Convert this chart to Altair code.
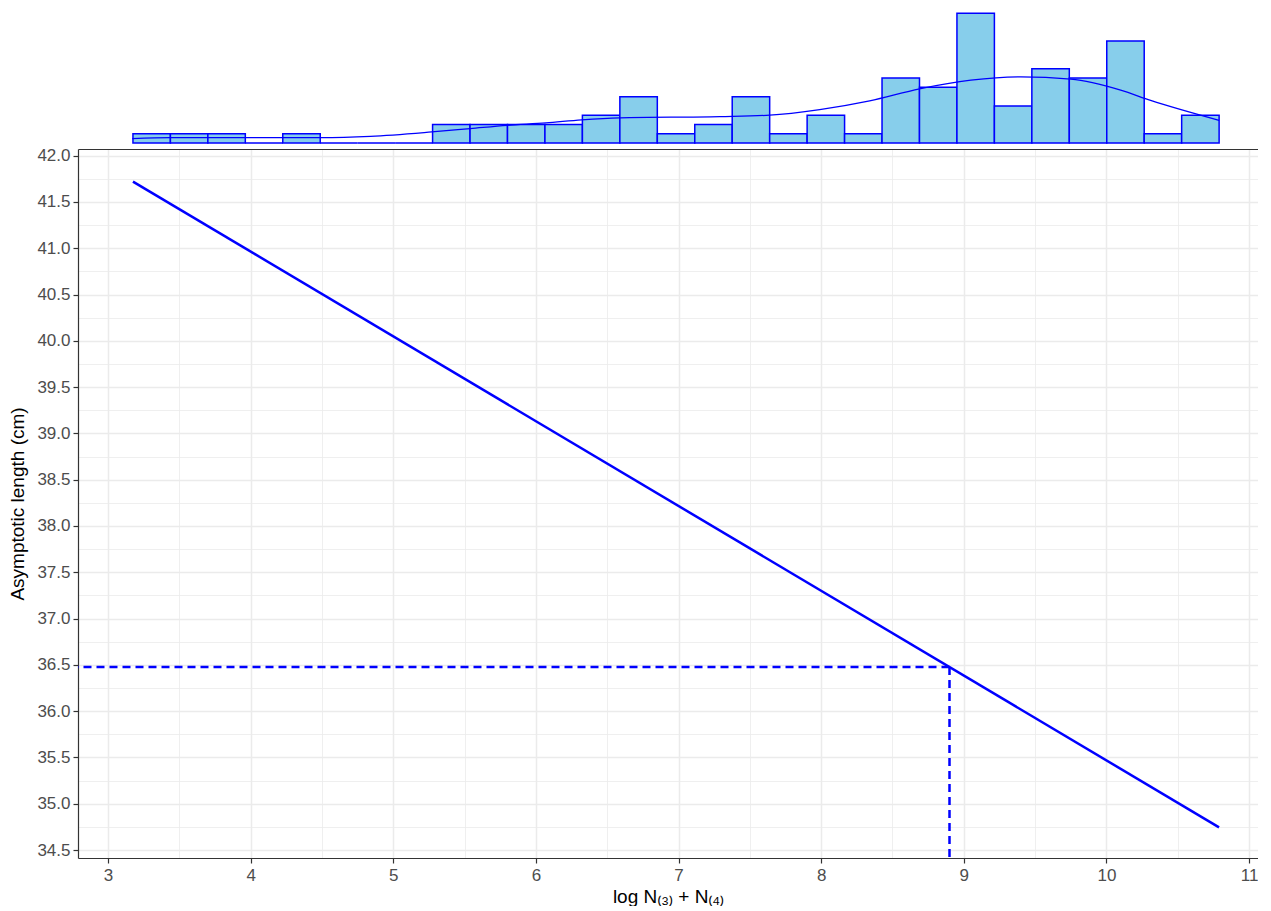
import altair as alt
import pandas as pd

# ---- data ----
line_x = [3.175, 10.79]
line_y = [41.72, 34.745]

ref_x = [8.9]
ref_y = [36.476]

hist_start = 3.175
hist_width = 0.2626
hist_counts = [1, 1, 1, 0, 1, 0, 0, 0, 2, 2, 2, 2, 3, 5, 1,
               2, 5, 1, 3, 1, 7, 6, 14, 4, 8, 7, 11, 1, 3]

dens_x = [3.17, 3.435, 3.96, 4.49, 4.84, 5.27, 5.54, 5.80, 6.07, 6.32, 6.59,
          7.29, 7.64, 7.99, 8.34, 8.69, 9.05, 9.40, 9.75, 10.10, 10.31, 10.79]
dens_y = [0.47, 0.58, 0.58, 0.58, 0.72, 1.19, 1.55, 1.90, 2.16, 2.50, 2.72,
          2.85, 3.00, 3.60, 4.54, 5.84, 6.78, 7.14, 6.89, 5.70, 4.60, 2.45]

x_major = [3, 4, 5, 6, 7, 8, 9, 10, 11]
x_minor = [3.5, 4.5, 5.5, 6.5, 7.5, 8.5, 9.5, 10.5]
y_major = [34.5, 35.0, 35.5, 36.0, 36.5, 37.0, 37.5, 38.0, 38.5, 39.0,
           39.5, 40.0, 40.5, 41.0, 41.5, 42.0]
y_minor = [34.75, 35.25, 35.75, 36.25, 36.75, 37.25, 37.75, 38.25, 38.75,
           39.25, 39.75, 40.25, 40.75, 41.25, 41.75]

X_TITLE = "log N\u208d\u2083\u208e + N\u208d\u2084\u208e"
Y_TITLE = "Asymptotic length (cm)"

X_DOMAIN = [2.7897, 11.063]
Y_DOMAIN = [34.414, 42.072]
HIST_Y_DOMAIN = [0, 14.56]
W = 1180
H_MAIN = 709
H_HIST = 135

BLUE = "#0000FF"
FONT = "Liberation Sans"

line_df = pd.DataFrame({"x": line_x, "y": line_y})
ref_df = pd.DataFrame({"x": ref_x, "y": ref_y})
hist_df = pd.DataFrame({
    "lo": [hist_start + i * hist_width for i in range(len(hist_counts))],
    "hi": [hist_start + (i + 1) * hist_width for i in range(len(hist_counts))],
    "count": hist_counts,
    "zero": [0] * len(hist_counts),
})
dens_df = pd.DataFrame({"x": dens_x, "y": dens_y})

# ---- main panel ----
xs = alt.Scale(domain=X_DOMAIN, nice=False, zero=False)
ys = alt.Scale(domain=Y_DOMAIN, nice=False, zero=False)

frame = alt.Chart(line_df).mark_point(opacity=0).encode(
    x=alt.X("x:Q", scale=xs, axis=alt.Axis(
        orient="top", values=x_minor, labels=False, ticks=False,
        domain=True, domainColor="#333333", domainWidth=1.2,
        grid=True, gridColor="#EBEBEB", gridWidth=0.8,
        title=None, minExtent=0, maxExtent=0)),
    y=alt.Y("y:Q", scale=ys, axis=alt.Axis(
        orient="right", values=y_minor, labels=False, ticks=False,
        domain=False, grid=True, gridColor="#EBEBEB", gridWidth=0.8,
        title=None, minExtent=0, maxExtent=0)),
)

hdash = alt.Chart(ref_df).mark_rule(color=BLUE, strokeWidth=2.5, strokeDash=[8, 5]).encode(
    x=alt.X("x:Q", scale=xs, axis=None),
    x2=alt.value(0),
    y=alt.Y("y:Q", scale=ys, axis=None),
)

vdash = alt.Chart(ref_df).mark_rule(color=BLUE, strokeWidth=2.5, strokeDash=[8, 5]).encode(
    x=alt.X("x:Q", scale=xs, axis=None),
    y=alt.Y("y:Q", scale=ys, axis=None),
    y2=alt.value(H_MAIN),
)

fit = alt.Chart(line_df).mark_line(color=BLUE, strokeWidth=2.5).encode(
    x=alt.X("x:Q", scale=xs, axis=alt.Axis(
        orient="bottom", values=x_major, format="d", title=X_TITLE,
        grid=True, gridColor="#EBEBEB", gridWidth=1.5,
        domain=True, domainColor="#333333", domainWidth=1.2,
        ticks=True, tickColor="#333333", tickWidth=1.2, tickSize=5,
        labelPadding=4, titlePadding=4,
        labelFont=FONT, labelFontSize=17, labelColor="#4D4D4D",
        titleFont=FONT, titleFontSize=19, titleColor="#000000", titleFontWeight="normal")),
    y=alt.Y("y:Q", scale=ys, axis=alt.Axis(
        orient="left", values=y_major, format=".1f", title=Y_TITLE,
        grid=True, gridColor="#EBEBEB", gridWidth=1.5,
        domain=True, domainColor="#333333", domainWidth=1.2,
        ticks=True, tickColor="#333333", tickWidth=1.2, tickSize=5,
        labelPadding=3, titlePadding=9,
        labelFont=FONT, labelFontSize=17, labelColor="#4D4D4D",
        titleFont=FONT, titleFontSize=19, titleColor="#000000", titleFontWeight="normal")),
)

main = alt.layer(frame, hdash, vdash, fit).resolve_axis(
    x="independent", y="independent"
).properties(width=W, height=H_MAIN)

# ---- marginal histogram ----
hx = alt.Scale(domain=X_DOMAIN, nice=False, zero=False)
hy = alt.Scale(domain=HIST_Y_DOMAIN, nice=False, zero=False)

bars = alt.Chart(hist_df).mark_rect(fill="#87CEEB", stroke=BLUE, strokeWidth=1.5).encode(
    x=alt.X("lo:Q", scale=hx, axis=None),
    x2="hi:Q",
    y=alt.Y("count:Q", scale=hy, axis=None),
    y2="zero:Q",
)

dens = alt.Chart(dens_df).mark_line(color=BLUE, strokeWidth=1.3, interpolate="monotone").encode(
    x=alt.X("x:Q", scale=hx, axis=None),
    y=alt.Y("y:Q", scale=hy, axis=None),
)

hist = alt.layer(bars, dens).properties(width=W, height=H_HIST)

chart = alt.vconcat(
    hist, main, spacing=6, bounds="flush", padding=0, background="white"
).configure_view(stroke=None)

chart.save("out.html", embed_options={"renderer": "svg", "actions": False})
